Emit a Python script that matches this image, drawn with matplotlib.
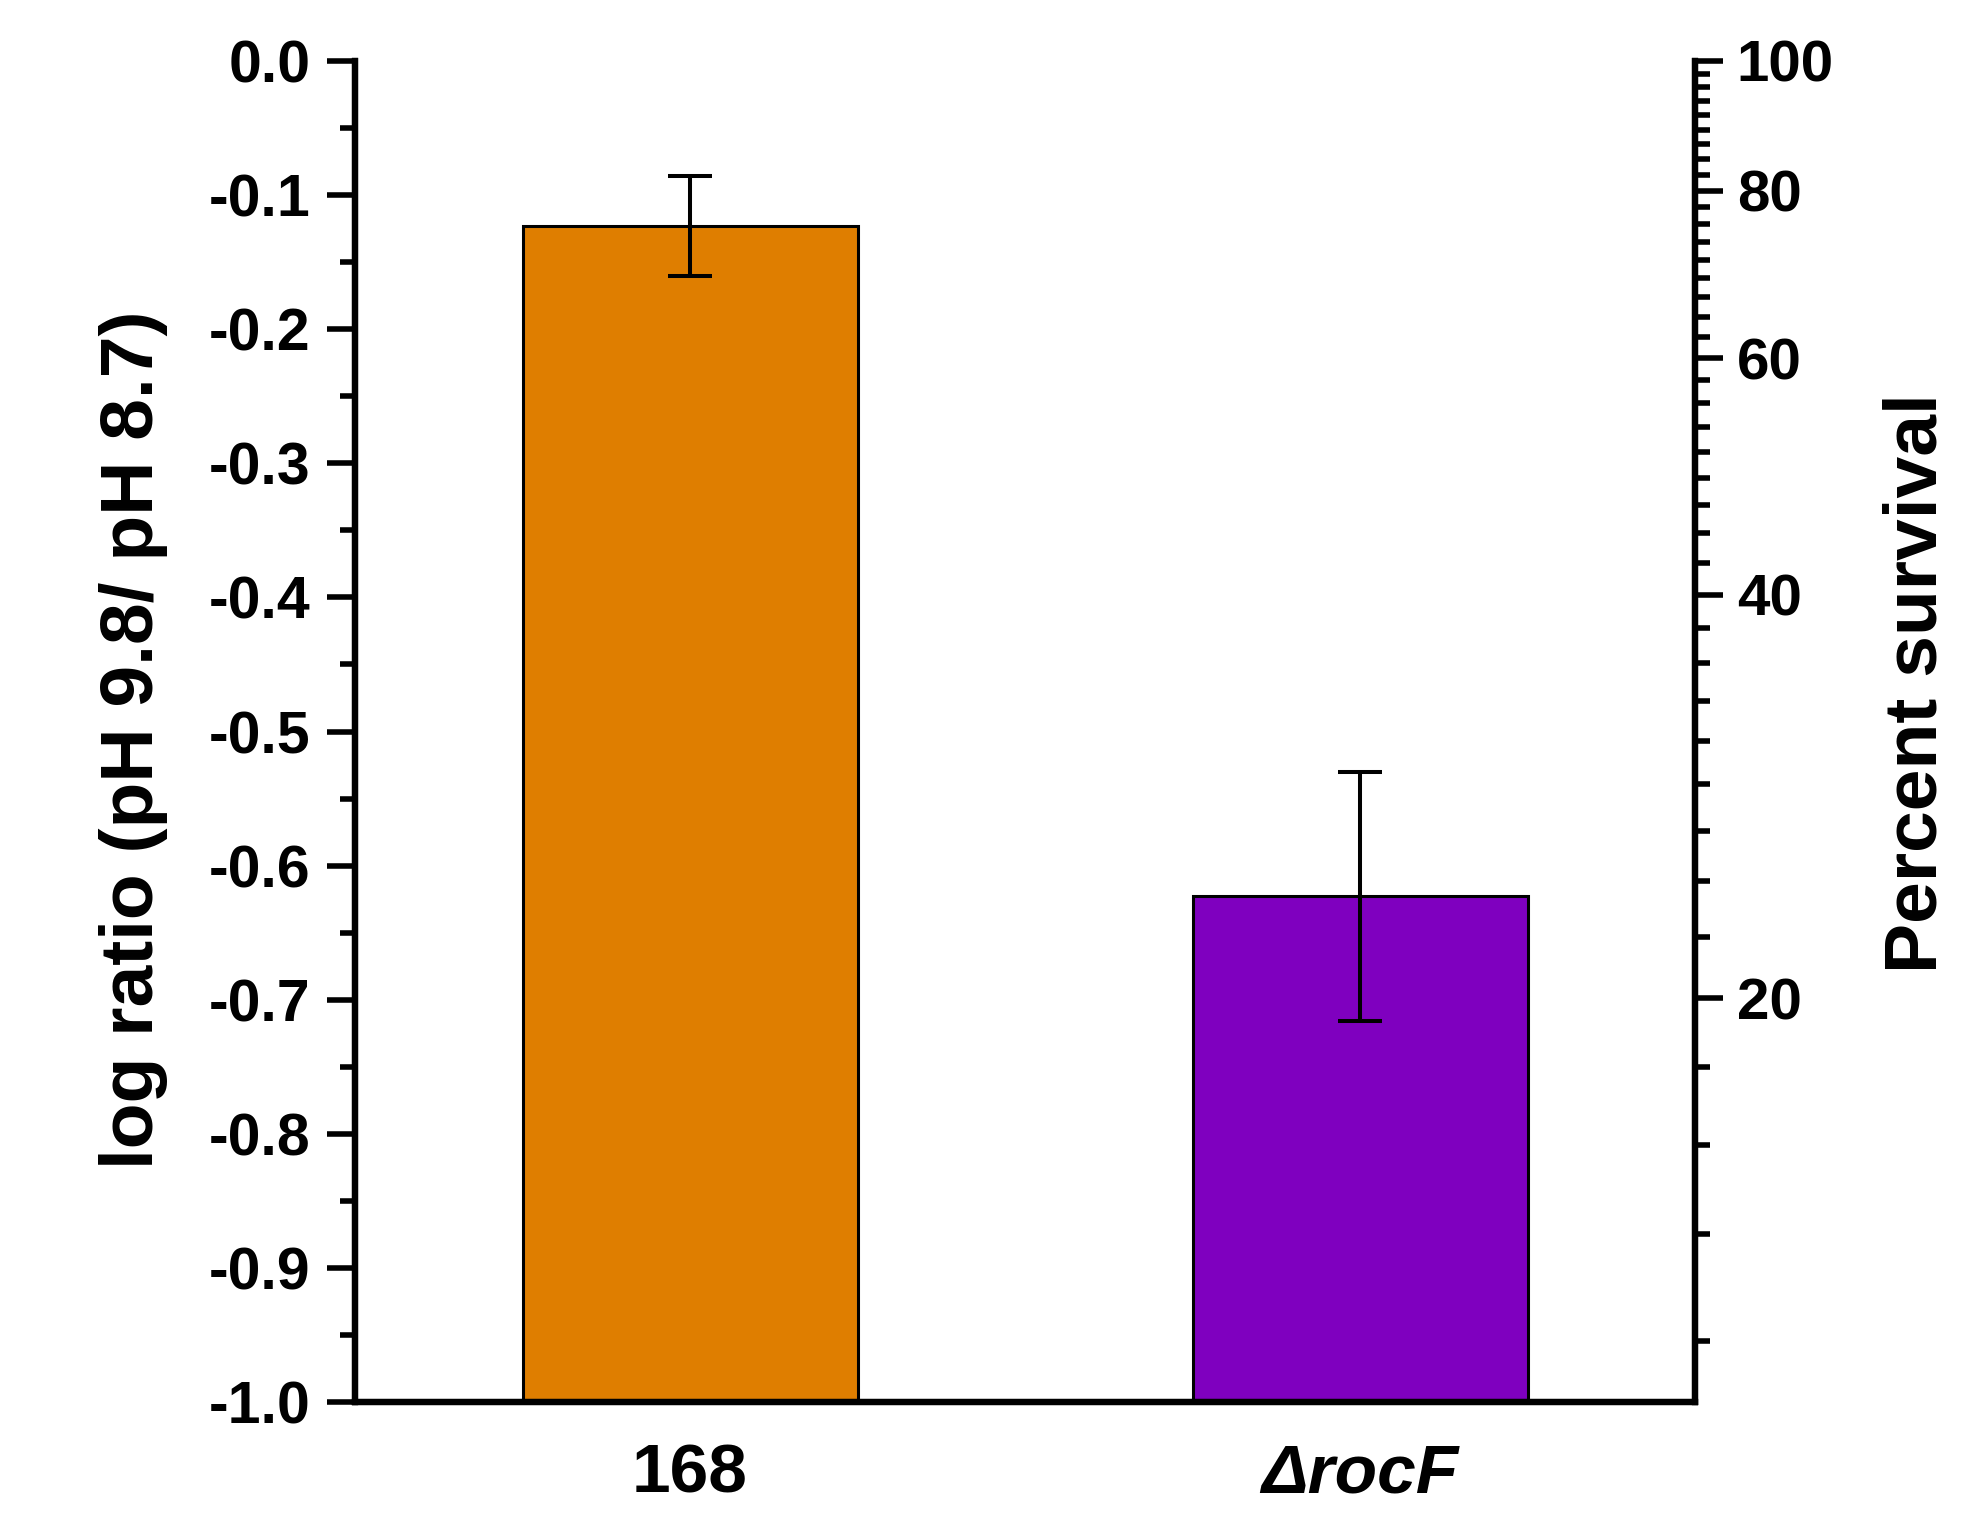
import numpy as np
import matplotlib
matplotlib.use("Agg")
import matplotlib.pyplot as plt
from matplotlib.ticker import FixedLocator, MultipleLocator, NullFormatter

# ---- data ----
strains = ['168', '\u0394rocF']
log_ratio = [-0.123, -0.623]
log_err = [0.037, 0.093]
bar_colors = ['#DF7E00', '#7F00BF']
y_min, y_max = -1.0, 0.0
right_major = [20, 40, 60, 80, 100]

plt.rcParams['font.family'] = ['Liberation Sans', 'DejaVu Sans']
plt.rcParams['font.weight'] = 'bold'

fig = plt.figure(figsize=(19.82, 15.14), dpi=100)
ax = fig.add_axes([355/1982, 1 - 1402/1514, 1340/1982, 1341/1514])

x = np.arange(1, len(strains) + 1)
heights = np.array(log_ratio) - y_min
ax.bar(x, heights, bottom=y_min, width=0.5, color=bar_colors,
       edgecolor='black', linewidth=2.2, zorder=2)
ax.errorbar(x, log_ratio, yerr=log_err, fmt='none', ecolor='black',
            elinewidth=2.9, capsize=15.5, capthick=2.9, zorder=3)

ax.set_xlim(0.5, 2.5)
ax.set_ylim(y_min, y_max)
ax.set_xticks(x)
ax.set_xticklabels(strains, fontsize=50, fontweight='bold')
ax.get_xticklabels()[1].set_fontstyle('italic')
ax.tick_params(axis='x', length=0, pad=29)

ax.yaxis.set_major_locator(MultipleLocator(0.1))
ax.yaxis.set_minor_locator(MultipleLocator(0.05))
ax.yaxis.set_major_formatter(matplotlib.ticker.FormatStrFormatter('%.1f'))
ax.tick_params(axis='y', which='major', length=20, width=4, labelsize=42.5, pad=12)
ax.tick_params(axis='y', which='minor', length=11, width=4)
for lab in ax.get_yticklabels():
    lab.set_fontweight('bold')

for s in ['left', 'bottom', 'right']:
    ax.spines[s].set_linewidth(4.5)
ax.spines['top'].set_visible(False)

ax.set_ylabel('log ratio (pH 9.8/ pH 8.7)', fontsize=54, fontweight='bold', va='center')
ax.yaxis.set_label_coords(-0.165, 0.494)

# right axis: percent survival (log scale)
ax2 = ax.twinx()
ax2.set_yscale('log')
ax2.set_ylim(100 * 10**y_min, 100 * 10**y_max)
ax2.yaxis.set_major_locator(FixedLocator(right_major))
minor = []
for lo in [0] + right_major[:-1]:
    for j in range(1, 9):
        v = lo + 20 * j / 9
        if v > 100 * 10**y_min:
            minor.append(v)
ax2.yaxis.set_minor_locator(FixedLocator(minor))
ax2.yaxis.set_minor_formatter(NullFormatter())
ax2.yaxis.set_major_formatter(matplotlib.ticker.FormatStrFormatter('%d'))
ax2.tick_params(axis='y', which='major', length=20, width=4, labelsize=42, pad=10)
ax2.tick_params(axis='y', which='minor', length=11, width=4)
for lab in ax2.get_yticklabels():
    lab.set_fontweight('bold')
for s in ['left', 'bottom', 'right']:
    ax2.spines[s].set_linewidth(4.5)
ax2.spines['top'].set_visible(False)
ax2.set_ylabel('Percent survival', fontsize=54, fontweight='bold', va='center')
ax2.yaxis.set_label_coords(1.166, 0.536)

fig.savefig('out.png', dpi=100, facecolor='white')
